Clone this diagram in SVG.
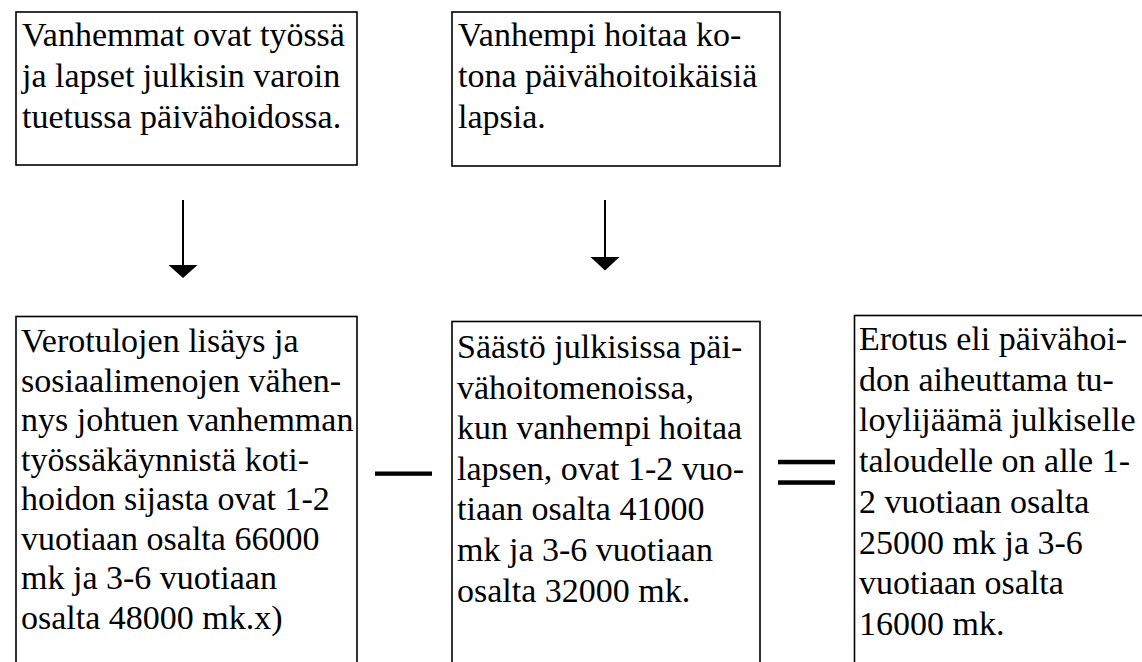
<svg xmlns="http://www.w3.org/2000/svg" width="1142" height="662" viewBox="0 0 1142 662">
<style>
.box{fill:#fff;stroke:#000;stroke-width:1.6}
.ln{stroke:#000;stroke-width:2;fill:none}
.bar{fill:#000}
</style>
<rect width="1142" height="662" fill="#fff"/>
<g id="box-top-left">
<rect class="box" x="16" y="12" width="341" height="153"/>
<text x="22" y="46" font-family="Liberation Serif" font-size="34">Vanhemmat ovat työssä</text>
<text x="22" y="87" font-family="Liberation Serif" font-size="34">ja lapset julkisin varoin</text>
<text x="22" y="128" font-family="Liberation Serif" font-size="34">tuetussa päivähoidossa.</text>
</g>
<g id="box-top-right">
<rect class="box" x="452" y="12" width="328" height="154"/>
<text x="458" y="46" font-family="Liberation Serif" font-size="34">Vanhempi hoitaa ko-</text>
<text x="458" y="87" font-family="Liberation Serif" font-size="34">tona päivähoitoikäisiä</text>
<text x="458" y="128" font-family="Liberation Serif" font-size="34">lapsia.</text>
</g>
<g id="connectors">
<line class="ln" x1="183" y1="200" x2="183" y2="266"/>
<path d="M168.5,265 L197.5,265 L183,278 Z" fill="#000"/>
<line class="ln" x1="605" y1="200" x2="605" y2="258"/>
<path d="M590.5,257 L619.5,257 L605,270.5 Z" fill="#000"/>
</g>
<g id="box-bottom-left">
<rect class="box" x="16" y="316.5" width="341" height="370"/>
<text x="21" y="352" font-family="Liberation Serif" font-size="34">Verotulojen lisäys ja</text>
<text x="21" y="391.5" font-family="Liberation Serif" font-size="34">sosiaalimenojen vähen-</text>
<text x="21" y="431" font-family="Liberation Serif" font-size="34">nys johtuen vanhemman</text>
<text x="21" y="470.5" font-family="Liberation Serif" font-size="34">työssäkäynnistä koti-</text>
<text x="21" y="510" font-family="Liberation Serif" font-size="34">hoidon sijasta ovat 1-2</text>
<text x="21" y="549.5" font-family="Liberation Serif" font-size="34">vuotiaan osalta 66000</text>
<text x="21" y="589" font-family="Liberation Serif" font-size="34">mk ja 3-6 vuotiaan</text>
<text x="21" y="628.5" font-family="Liberation Serif" font-size="34">osalta 48000 mk.x)</text>
</g>
<g id="minus">
<rect class="bar" x="375" y="471.5" width="57" height="4.3"/>
</g>
<g id="box-bottom-middle">
<rect class="box" x="452" y="321.5" width="308" height="370"/>
<text x="457" y="358" font-family="Liberation Serif" font-size="34">Säästö julkisissa päi-</text>
<text x="457" y="398.6" font-family="Liberation Serif" font-size="34">vähoitomenoissa,</text>
<text x="457" y="439.2" font-family="Liberation Serif" font-size="34">kun vanhempi hoitaa</text>
<text x="457" y="479.8" font-family="Liberation Serif" font-size="34">lapsen, ovat 1-2 vuo-</text>
<text x="457" y="520.4" font-family="Liberation Serif" font-size="34">tiaan osalta 41000</text>
<text x="457" y="561" font-family="Liberation Serif" font-size="34">mk ja 3-6 vuotiaan</text>
<text x="457" y="601.6" font-family="Liberation Serif" font-size="34">osalta 32000 mk.</text>
</g>
<g id="equals">
<rect class="bar" x="778" y="459.8" width="57" height="4.5"/>
<rect class="bar" x="778" y="480.3" width="57" height="4.5"/>
</g>
<g id="box-bottom-right">
<rect class="box" x="854.5" y="315.5" width="300" height="370"/>
<text x="859" y="350" font-family="Liberation Serif" font-size="34">Erotus eli päivähoi-</text>
<text x="859" y="390.7" font-family="Liberation Serif" font-size="34">don aiheuttama tu-</text>
<text x="859" y="431.4" font-family="Liberation Serif" font-size="34">loylijäämä julkiselle</text>
<text x="859" y="472.1" font-family="Liberation Serif" font-size="34">taloudelle on alle 1-</text>
<text x="859" y="512.8" font-family="Liberation Serif" font-size="34">2 vuotiaan osalta</text>
<text x="859" y="553.5" font-family="Liberation Serif" font-size="34">25000 mk ja 3-6</text>
<text x="859" y="594.2" font-family="Liberation Serif" font-size="34">vuotiaan osalta</text>
<text x="859" y="634.9" font-family="Liberation Serif" font-size="34">16000 mk.</text>
</g>
</svg>
